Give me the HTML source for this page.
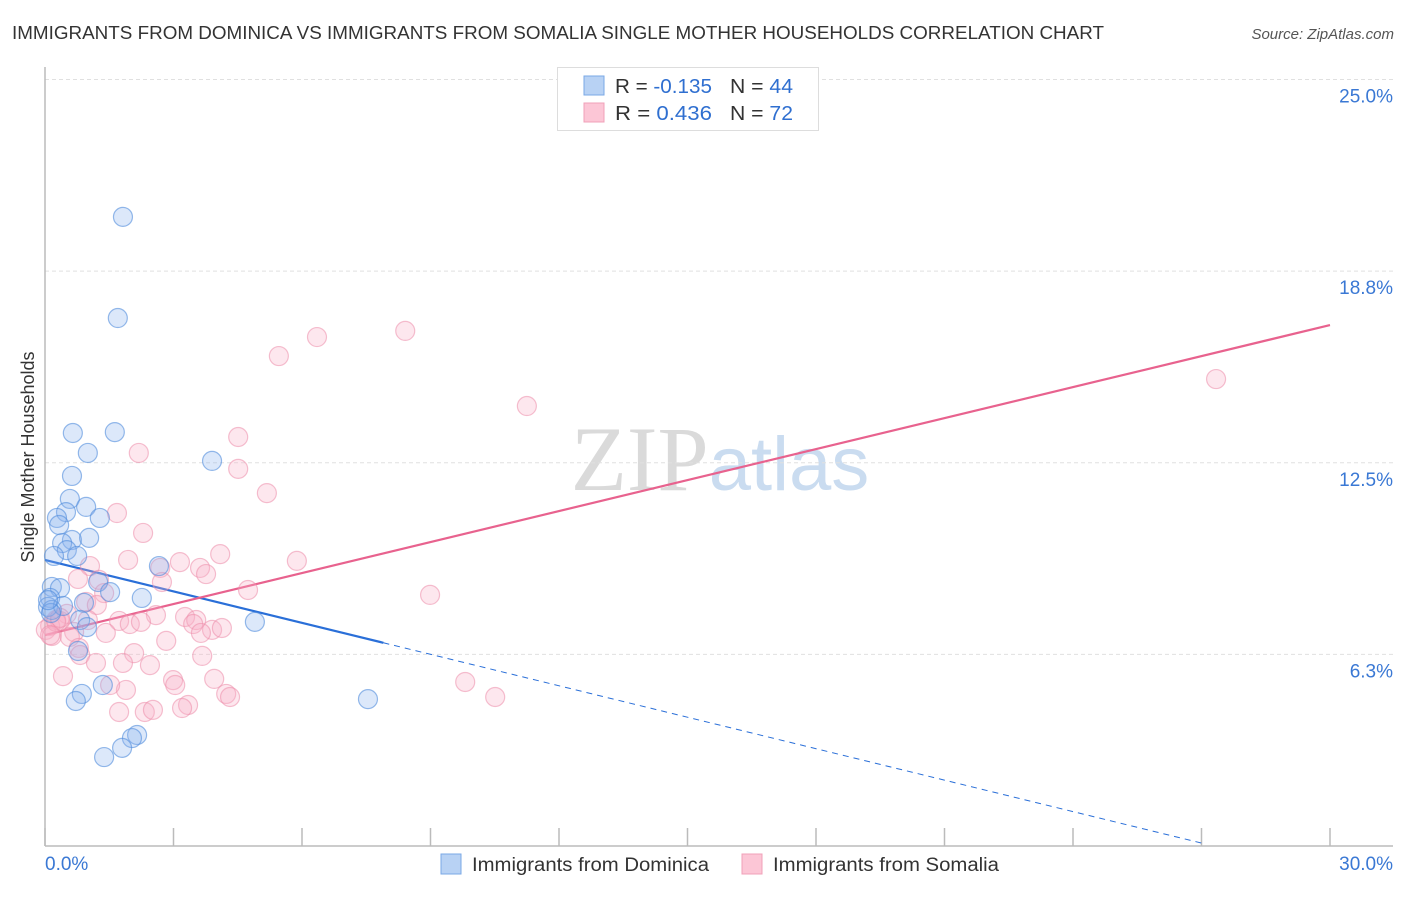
<!DOCTYPE html>
<html><head><meta charset="utf-8">
<style>
html,body{margin:0;padding:0;background:#fff;}
body{width:1406px;height:892px;overflow:hidden;font-family:"Liberation Sans",sans-serif;}
</style></head>
<body>
<svg id="chart" width="1406" height="892" xmlns="http://www.w3.org/2000/svg" font-family="Liberation Sans, sans-serif">
  <text x="12" y="39" font-size="18" fill="#333" textLength="1092" lengthAdjust="spacingAndGlyphs">IMMIGRANTS FROM DOMINICA VS IMMIGRANTS FROM SOMALIA SINGLE MOTHER HOUSEHOLDS CORRELATION CHART</text>
  <text x="1394" y="39" font-size="15" fill="#555" text-anchor="end" font-style="italic">Source: ZipAtlas.com</text>
  <text x="720" y="490" font-size="92" text-anchor="middle"><tspan fill="#dadada" font-family="Liberation Serif, serif">ZIP</tspan><tspan fill="#cadcf0" font-size="76">atlas</tspan></text>
  <g id="grid"></g>
  <g id="axes"></g>
  <g id="trend"></g>
  <g id="points"></g>
  <text transform="translate(34,457) rotate(-90)" font-size="18" fill="#333" text-anchor="middle">Single Mother Households</text>
  <g>
    <rect x="557.5" y="67.5" width="261" height="63" fill="#fff" stroke="#ddd"/>
    <rect x="584" y="76" width="20" height="19" fill="#b8d2f4" stroke="#7aa8e6"/>
    <rect x="584" y="103" width="20" height="19" fill="#fcc6d6" stroke="#f0a0b8"/>
    <text x="615" y="93" font-size="20" fill="#333" textLength="97" lengthAdjust="spacingAndGlyphs">R = <tspan fill="#2f6fd0">-0.135</tspan></text>
    <text x="730" y="93" font-size="20" fill="#333" textLength="63" lengthAdjust="spacingAndGlyphs">N = <tspan fill="#2f6fd0">44</tspan></text>
    <text x="615" y="120" font-size="20" fill="#333" textLength="97" lengthAdjust="spacingAndGlyphs">R =  <tspan fill="#2f6fd0">0.436</tspan></text>
    <text x="730" y="120" font-size="20" fill="#333" textLength="63" lengthAdjust="spacingAndGlyphs">N =  <tspan fill="#2f6fd0">72</tspan></text>
  </g>
  <g>
    <rect x="441" y="854" width="20" height="20" fill="#b8d2f4" stroke="#7aa8e6"/>
    <text x="472" y="871" font-size="19" fill="#333" textLength="237" lengthAdjust="spacingAndGlyphs">Immigrants from Dominica</text>
    <rect x="742" y="854" width="20" height="20" fill="#fcc6d6" stroke="#f0a0b8"/>
    <text x="773" y="871" font-size="19" fill="#333" textLength="226" lengthAdjust="spacingAndGlyphs">Immigrants from Somalia</text>
  </g>
</svg>
<script>
const yTicks=[25.0,18.8,12.5,6.3];
const yTickVals=[25,18.75,12.5,6.25];
const xTickLabels=["0.0%","30.0%"];
const domX=[0,30], domY=[0,25];
const blueX=[1.82,1.70,0.65,1.63,1.00,3.90,0.63,0.58,0.96,0.49,0.28,1.28,0.33,0.63,1.03,0.40,0.51,0.75,0.21,2.66,1.24,0.16,0.35,1.52,2.26,0.12,0.07,0.16,0.91,0.42,0.14,0.82,4.90,0.98,0.77,1.35,0.86,0.72,7.54,2.15,2.03,1.80,1.38,0.07];
const blueY=[20.52,17.22,13.47,13.50,12.82,12.56,12.07,11.32,11.06,10.89,10.70,10.70,10.47,9.98,10.05,9.88,9.65,9.46,9.46,9.13,8.61,8.45,8.41,8.28,8.09,8.09,7.80,7.70,7.93,7.83,7.60,7.37,7.31,7.14,6.36,5.25,4.96,4.73,4.79,3.62,3.52,3.20,2.90,8.02];
const pinkX=[8.41,6.35,5.46,11.25,27.34,2.19,4.51,4.51,5.18,1.68,2.29,4.09,1.94,5.88,3.15,2.69,1.05,3.62,3.76,2.73,1.26,0.77,4.74,8.99,1.38,0.96,1.21,0.51,0.26,0.12,0.35,0.02,0.16,0.68,0.26,1.73,1.98,2.59,2.24,3.27,3.53,3.46,3.90,4.13,3.64,2.83,1.42,0.58,0.79,0.82,2.08,3.67,2.45,1.82,1.19,0.42,2.99,3.04,3.95,1.89,4.23,4.32,3.34,3.20,2.33,2.52,1.73,9.81,10.51,1.52,0.12,0.35,1.00];
const pinkY=[16.80,16.60,15.98,14.35,15.23,12.82,13.34,12.30,11.51,10.86,10.21,9.52,9.33,9.30,9.26,9.07,9.13,9.07,8.87,8.61,8.68,8.71,8.35,8.19,8.25,7.96,7.86,7.57,7.37,7.18,7.34,7.05,6.85,6.98,7.31,7.34,7.24,7.53,7.31,7.47,7.37,7.24,7.05,7.11,6.95,6.69,6.95,6.82,6.46,6.23,6.29,6.20,5.90,5.97,5.97,5.54,5.41,5.25,5.45,5.09,4.96,4.86,4.60,4.50,4.37,4.44,4.37,5.35,4.86,5.25,6.88,7.44,7.37];
const blueTrend=[9.33,-0.342];
const blueSolidEnd=7.9, blueDashEnd=27.0;
const pinkTrend=[6.88,0.337];
const pinkEnd=30;

const X=v=>45+(v-domX[0])/(domX[1]-domX[0])*1285;
const Y=v=>846-(v-domY[0])/(domY[1]-domY[0])*766.5;
const NS="http://www.w3.org/2000/svg";
function mk(parent,tag,attrs){const e=document.createElementNS(NS,tag);for(const k in attrs)e.setAttribute(k,attrs[k]);document.getElementById(parent).appendChild(e);return e;}

yTickVals.forEach((v,i)=>{
  const g=mk('grid','line',{x1:45,x2:1393,y1:Y(v),y2:Y(v),stroke:'#e0e0e0','stroke-dasharray':'4,3'});
  
  
  const t=mk('grid','text',{x:1393,y:Y(v)+23,'font-size':19,fill:'#3a78d4','text-anchor':'end'});
  t.textContent=yTicks[i].toFixed(1)+'%';
  
  
});
let ax=mk('axes','line',{x1:45,x2:45,y1:67,y2:846,stroke:'#bbb','stroke-width':1.5});


ax=mk('axes','line',{x1:45,x2:1393,y1:846,y2:846,stroke:'#bbb','stroke-width':1.5});


for(let v=0;v<=30;v+=3){
  const t=mk('axes','line',{x1:X(v),x2:X(v),y1:828,y2:846,stroke:'#bbb','stroke-width':1.5});
  
  
}
[[0,'start',45],[30,'end',1393]].forEach((d,i)=>{
  const t=mk('axes','text',{x:d[2],y:870,'font-size':19,fill:'#3a78d4','text-anchor':d[1]});
  t.textContent=xTickLabels[i];
  
  
});

function drawPts(xs,ys,fill,stroke,name){
  xs.forEach((x,i)=>{
    const c=mk('points','circle',{cx:X(x),cy:Y(ys[i]),r:9.5,fill:fill,stroke:stroke,'stroke-width':1.2});
    
    
  });
}
drawPts(pinkX,pinkY,'rgba(248,175,198,0.3)','rgba(236,140,170,0.55)','point-somalia');
drawPts(blueX,blueY,'rgba(140,180,240,0.3)','rgba(80,140,220,0.6)','point-dominica');

const bf=v=>blueTrend[0]+blueTrend[1]*v, pf=v=>pinkTrend[0]+pinkTrend[1]*v;
let l=mk('trend','line',{x1:X(0),y1:Y(bf(0)),x2:X(blueSolidEnd),y2:Y(bf(blueSolidEnd)),stroke:'#2a6fd8','stroke-width':2.2});


l=mk('trend','line',{x1:X(blueSolidEnd),y1:Y(bf(blueSolidEnd)),x2:X(blueDashEnd),y2:Y(bf(blueDashEnd)),stroke:'#2a6fd8','stroke-width':1,'stroke-dasharray':'6,5'});


l=mk('trend','line',{x1:X(0),y1:Y(pf(0)),x2:X(pinkEnd),y2:Y(pf(pinkEnd)),stroke:'#e8628e','stroke-width':2.2});


</script>
</body></html>
